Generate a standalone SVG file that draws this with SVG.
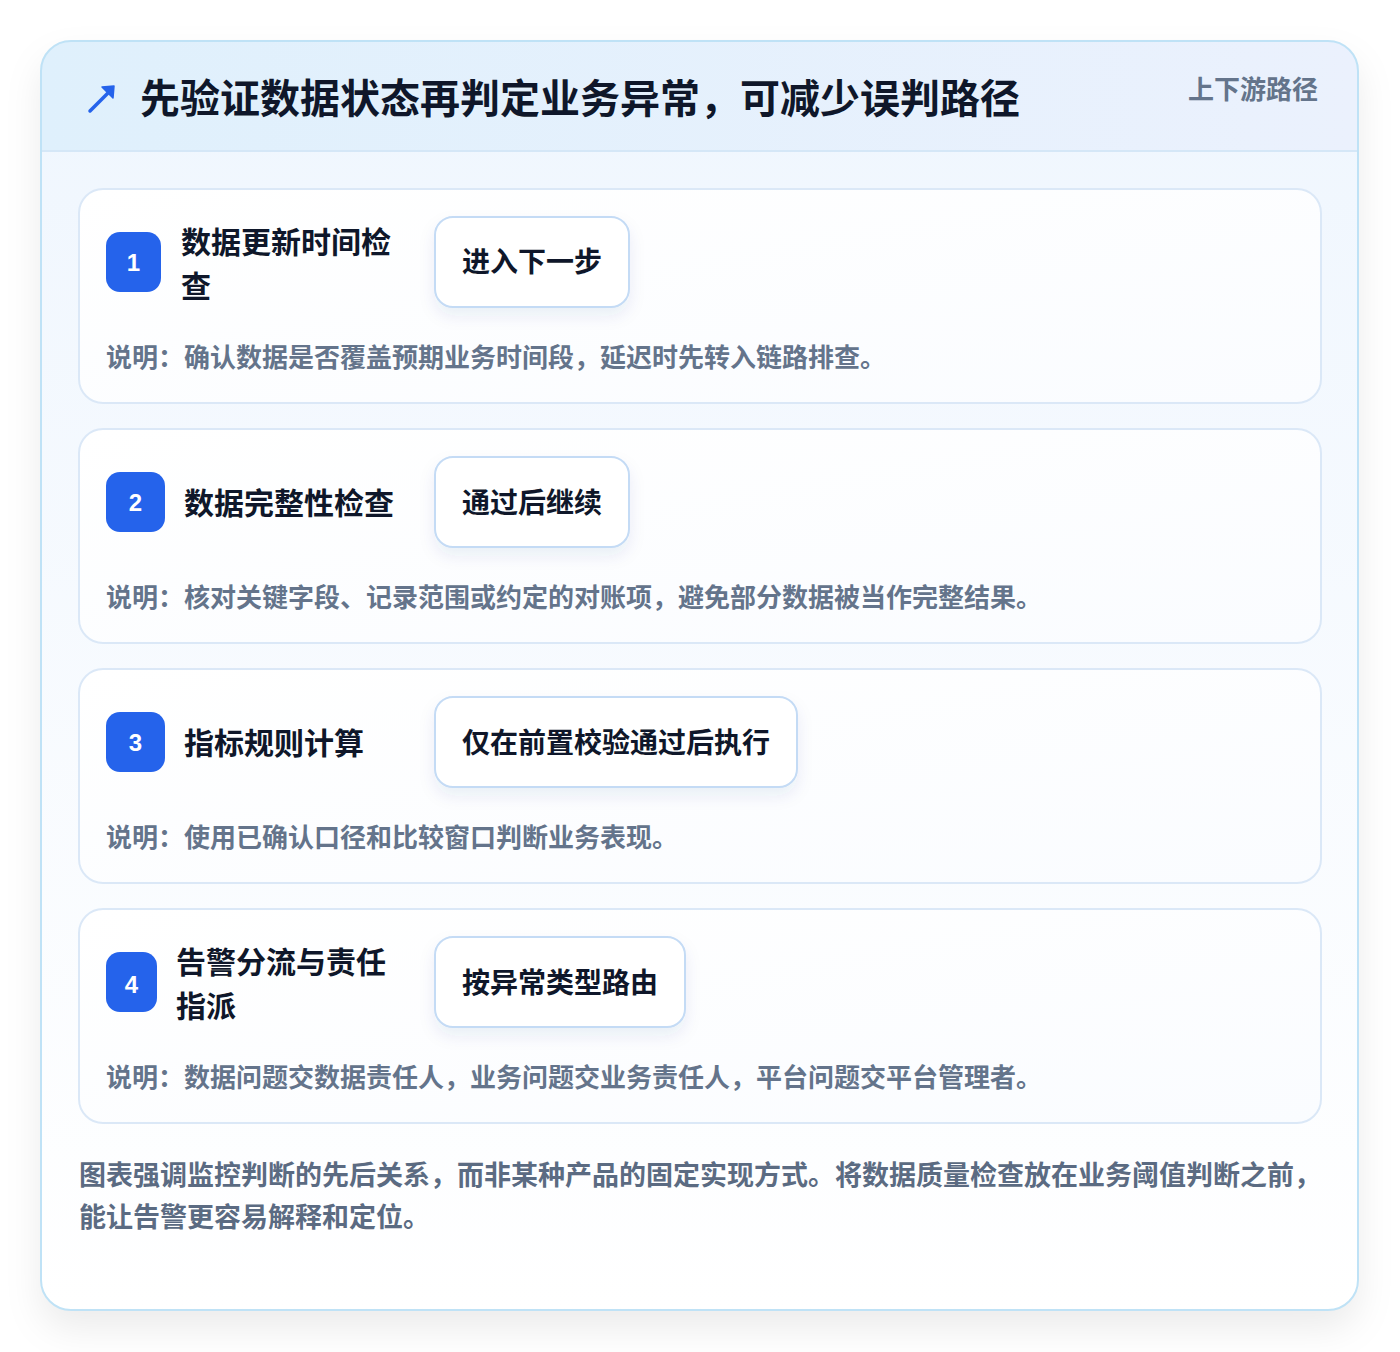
<svg xmlns="http://www.w3.org/2000/svg" width="1400" height="1352" viewBox="0 0 1400 1352">
<defs>
<linearGradient id="bodyGrad" x1="0" y1="0" x2="0" y2="1">
<stop offset="0" stop-color="#eff6fe"/>
<stop offset="1" stop-color="#ffffff"/>
</linearGradient>
<linearGradient id="headGrad" x1="0" y1="0" x2="1" y2="0">
<stop offset="0" stop-color="#dff0fc"/>
<stop offset="1" stop-color="#ebf1fd"/>
</linearGradient>
<linearGradient id="cardGrad" x1="0" y1="0" x2="1" y2="1">
<stop offset="0" stop-color="#ffffff"/>
<stop offset="1" stop-color="#fafcff"/>
</linearGradient>
<filter id="outerShadow" x="-10%" y="-10%" width="120%" height="125%">
<feDropShadow dx="0" dy="18" stdDeviation="18" flood-color="#000000" flood-opacity="0.08"/>
</filter>
<filter id="pillShadow" x="-20%" y="-30%" width="140%" height="170%">
<feDropShadow dx="0" dy="8" stdDeviation="8" flood-color="#1e3a8a" flood-opacity="0.08"/>
</filter>
<clipPath id="outerClip">
<rect x="41" y="41" width="1317" height="1269" rx="30"/>
</clipPath>
</defs>
<style>
text { font-family: "Noto Sans CJK SC", "Noto Sans", "Liberation Sans", sans-serif; font-weight: 700; }
.title { font-size: 40px; fill: #0f172a; }
.tag { font-size: 26px; fill: #64748b; }
.step { fill: url(#cardGrad); stroke: #dbe8f7; stroke-width: 2; }
.badge { fill: #2563eb; }
.num { font-size: 24px; fill: #ffffff; text-anchor: middle; font-family: "Liberation Sans", "Noto Sans", sans-serif; }
.stitle { font-size: 30px; fill: #0f172a; }
.pill { fill: #ffffff; stroke: #c4dbf5; stroke-width: 2; }
.ptext { font-size: 28px; fill: #0f172a; }
.desc { font-size: 26px; fill: #64748b; }
.foot { font-size: 27px; fill: #5b6b82; }
</style>
<rect x="0" y="0" width="1400" height="1352" fill="#ffffff"/>
<g id="frame">
<rect x="41" y="41" width="1317" height="1269" rx="30" fill="url(#bodyGrad)" filter="url(#outerShadow)"/>
<g clip-path="url(#outerClip)">
<rect x="41" y="41" width="1317" height="110" fill="url(#headGrad)"/>
<line x1="41" y1="151" x2="1358" y2="151" stroke="#d5e7f7" stroke-width="2"/>
</g>
<rect x="41" y="41" width="1317" height="1269" rx="30" fill="none" stroke="#bfe2f6" stroke-width="2"/>
</g>
<g id="header">
<g id="icon" stroke="#2563eb" stroke-width="3.5" fill="#2563eb" stroke-linecap="round">
<line x1="90" y1="111" x2="110" y2="91"/>
<path d="M102,87 L114,86 L113,98 Z" stroke-width="1.5" stroke-linejoin="round"/>
</g>
<text class="title" x="140" y="113">先验证数据状态再判定业务异常，可减少误判路径</text>
<text class="tag" x="1318" y="99" text-anchor="end">上下游路径</text>
</g>
<g id="step1">
<rect class="step" x="79" y="189" width="1242" height="214" rx="24"/>
<rect class="badge" x="106" y="232" width="55" height="60" rx="14"/>
<text class="num" x="133.5" y="271">1</text>
<text class="stitle" x="181" y="253">数据更新时间检</text>
<text class="stitle" x="181" y="297">查</text>
<rect class="pill" x="435" y="217" width="194" height="90" rx="18" filter="url(#pillShadow)"/>
<text class="ptext" x="462" y="272">进入下一步</text>
<text class="desc" x="106" y="367">说明：确认数据是否覆盖预期业务时间段，延迟时先转入链路排查。</text>
</g>
<g id="step2">
<rect class="step" x="79" y="429" width="1242" height="214" rx="24"/>
<rect class="badge" x="106" y="472" width="59" height="60" rx="14"/>
<text class="num" x="135.5" y="511">2</text>
<text class="stitle" x="184" y="514">数据完整性检查</text>
<rect class="pill" x="435" y="457" width="194" height="90" rx="18" filter="url(#pillShadow)"/>
<text class="ptext" x="462" y="513">通过后继续</text>
<text class="desc" x="106" y="607">说明：核对关键字段、记录范围或约定的对账项，避免部分数据被当作完整结果。</text>
</g>
<g id="step3">
<rect class="step" x="79" y="669" width="1242" height="214" rx="24"/>
<rect class="badge" x="106" y="712" width="59" height="60" rx="14"/>
<text class="num" x="135.5" y="751">3</text>
<text class="stitle" x="184" y="754">指标规则计算</text>
<rect class="pill" x="435" y="697" width="362" height="90" rx="18" filter="url(#pillShadow)"/>
<text class="ptext" x="462" y="753">仅在前置校验通过后执行</text>
<text class="desc" x="106" y="847">说明：使用已确认口径和比较窗口判断业务表现。</text>
</g>
<g id="step4">
<rect class="step" x="79" y="909" width="1242" height="214" rx="24"/>
<rect class="badge" x="106" y="952" width="51" height="60" rx="14"/>
<text class="num" x="131.5" y="993">4</text>
<text class="stitle" x="176" y="973">告警分流与责任</text>
<text class="stitle" x="176" y="1017">指派</text>
<rect class="pill" x="435" y="937" width="250" height="90" rx="18" filter="url(#pillShadow)"/>
<text class="ptext" x="462" y="993">按异常类型路由</text>
<text class="desc" x="106" y="1087">说明：数据问题交数据责任人，业务问题交业务责任人，平台问题交平台管理者。</text>
</g>
<g id="footer">
<text class="foot" x="79" y="1185">图表强调监控判断的先后关系，而非某种产品的固定实现方式。将数据质量检查放在业务阈值判断之前，</text>
<text class="foot" x="79" y="1227">能让告警更容易解释和定位。</text>
</g>
<g id="connectors"></g>
</svg>
